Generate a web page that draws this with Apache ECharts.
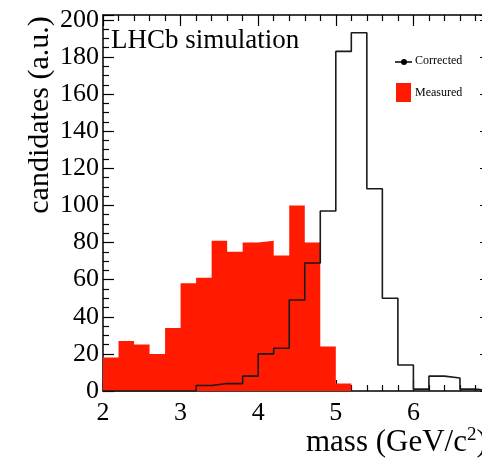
<!DOCTYPE html>
<html>
<head>
<meta charset="utf-8">
<script src="https://cdn.jsdelivr.net/npm/echarts@6/dist/echarts.min.js"></script>
<style>
  html, body { margin: 0; padding: 0; background: #fff; }
  #chart { width: 482px; height: 460px; }
</style>
</head>
<body>
<div id="chart"></div>
<script>
// bin left edges, 0.2 GeV wide, 2.0 .. 6.8
const binStart = 2.0;
const binWidth = 0.2;
const measured = [18, 27, 25, 20, 34, 58, 61, 81, 75, 80, 81, 73, 100, 80, 24, 4, 0, 0, 0, 0, 0, 0, 0, 0, 0];
const corrected = [0, 0, 0, 0, 0, 0, 3, 4, 4, 8, 20, 23, 49, 69, 97, 183, 193, 109, 50, 14, 1, 8, 7, 1, 0];
const xTicks = [2, 3, 4, 5, 6, 7];
const yTicks = [0, 20, 40, 60, 80, 100, 120, 140, 160, 180, 200];

// step points: [left edge, value] plus closing point at the last right edge
function stepPoints(vals) {
  const pts = vals.map((v, i) => [+(binStart + i * binWidth).toFixed(2), v]);
  pts.push([+(binStart + vals.length * binWidth).toFixed(2), vals[vals.length - 1]]);
  return pts;
}

const serif = "Liberation Serif";
const chart = echarts.init(document.getElementById("chart"));

const tickInside = { show: true, inside: true, length: 11, lineStyle: { color: "#000", width: 1.2 } };
const minorInside = { show: true, length: 6, lineStyle: { color: "#000", width: 1.2 } };

chart.setOption({
  animation: false,
  grid: { left: 103, top: 15, right: -9, bottom: 69, outerBoundsMode: "none", containLabel: false },
  xAxis: [
    {
      type: "value", min: xTicks[0], max: xTicks[xTicks.length - 1], interval: 1,
      axisLine: { show: true, onZero: false, lineStyle: { color: "#000", width: 1.5 } },
      axisTick: tickInside,
      minorTick: Object.assign({ splitNumber: 5 }, minorInside),
      splitLine: { show: false },
      axisLabel: {
        margin: 9, color: "#000", fontFamily: serif, fontSize: 26,
        formatter: v => (xTicks.indexOf(v) >= 0 && v < 7 ? String(v) : "")
      }
    },
    {
      type: "value", position: "top", min: xTicks[0], max: xTicks[xTicks.length - 1], interval: 1,
      axisLine: { show: true, onZero: false, lineStyle: { color: "#000", width: 1.5 } },
      axisTick: tickInside,
      minorTick: Object.assign({ splitNumber: 5 }, minorInside),
      splitLine: { show: false },
      axisLabel: { show: false }
    }
  ],
  yAxis: [
    {
      type: "value", min: 0, max: 202.6, interval: 20,
      axisLine: { show: true, onZero: false, lineStyle: { color: "#000", width: 1.5 } },
      axisTick: tickInside,
      minorTick: Object.assign({ splitNumber: 4 }, minorInside),
      splitLine: { show: false },
      axisLabel: {
        margin: 4, color: "#000", fontFamily: serif, fontSize: 26,
        formatter: v => (yTicks.indexOf(v) >= 0 ? String(v) : "")
      }
    },
    {
      type: "value", position: "right", min: 0, max: 202.6, interval: 20,
      axisLine: { show: true, onZero: false, lineStyle: { color: "#000", width: 1.5 } },
      axisTick: tickInside,
      minorTick: Object.assign({ splitNumber: 4 }, minorInside),
      splitLine: { show: false },
      axisLabel: { show: false }
    }
  ],
  series: [
    {
      name: "Measured",
      type: "line",
      step: "end",
      data: stepPoints(measured),
      showSymbol: false,
      lineStyle: { width: 0 },
      areaStyle: { color: "#ff1a00", opacity: 1 },
      z: 2
    },
    {
      name: "Corrected",
      type: "line",
      step: "end",
      data: stepPoints(corrected),
      showSymbol: false,
      lineStyle: { color: "#1a1a1a", width: 1.6 },
      z: 3
    }
  ],
  graphic: [
    {
      type: "text", left: 111, top: 27,
      style: { text: "LHCb simulation", font: "27px 'Liberation Serif'", fill: "#000" }
    },
    {
      type: "text", x: 40, y: 115, rotation: Math.PI / 2,
      style: {
        text: "candidates (a.u.)", font: "30px 'Liberation Serif'", fill: "#000",
        align: "center", verticalAlign: "middle"
      }
    },
    {
      type: "text", x: 306, y: 426,
      style: {
        text: "{b|mass (GeV/c}{s|2}{b|)}",
        rich: {
          b: { fontFamily: serif, fontSize: 31, fill: "#000", color: "#000" },
          s: { fontFamily: serif, fontSize: 19, fill: "#000", color: "#000", verticalAlign: "top", padding: [0, 0, 14, 0] }
        }
      }
    },
    // legend
    { type: "line", shape: { x1: 395, y1: 62, x2: 412, y2: 62 }, style: { stroke: "#000", lineWidth: 1.5 } },
    { type: "circle", shape: { cx: 404, cy: 62, r: 3 }, style: { fill: "#000" } },
    { type: "text", left: 415, top: 55, style: { text: "Corrected", font: "12px 'Liberation Serif'", fill: "#000" } },
    { type: "rect", shape: { x: 396, y: 83, width: 15, height: 19 }, style: { fill: "#ff1a00" } },
    { type: "text", left: 415, top: 87, style: { text: "Measured", font: "12px 'Liberation Serif'", fill: "#000" } }
  ]
});
</script>
</body>
</html>
